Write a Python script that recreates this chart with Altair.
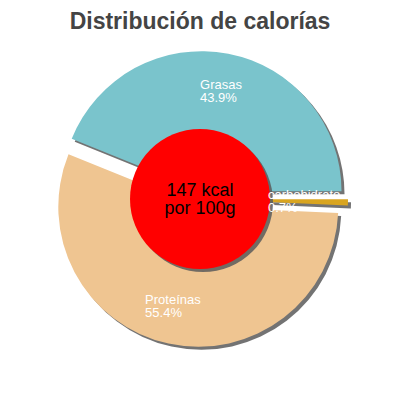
import math
import altair as alt
import pandas as pd

# ---- data ----
names = ["Grasas", "carbohidrato", "Proteínas"]
pcts = [43.9, 0.7, 55.4]
pct_labels = ["43.9%", "0.7%", "55.4%"]
slice_order = [0, 1, 2]
colors = ["#7ac4cc", "#d9a520", "#efc591"]
center_lines = ["147 kcal", "por 100g"]
title_text = ["Distribución de calorías"]

# ---- layout / style constants ----
CX, CY = 192, 151          # pie centre in view pixels
R = 140                    # pie radius
D = 8                      # slice explode offset
RL = 110                   # label radius
SH = 3                     # shadow offset
START = math.radians(-68.0)

df = pd.DataFrame({"name": names, "pct": pcts, "pct_label": pct_labels, "order": slice_order})
cdf = pd.DataFrame({"line": center_lines, "row": [0, 1]})
tdf = pd.DataFrame({"title": title_text})

base = (
    alt.Chart(df)
    .transform_joinaggregate(total="sum(pct)")
    .transform_window(cum="sum(pct)", sort=[alt.SortField("order")], frame=[None, 0])
    .transform_calculate(
        a0=f"{START} + (datum.cum - datum.pct) / datum.total * 2 * PI",
        a1=f"{START} + datum.cum / datum.total * 2 * PI",
    )
    .transform_calculate(mid="(datum.a0 + datum.a1) / 2")
    .transform_calculate(
        ox=f"{CX} + {D} * sin(datum.mid)",
        oy=f"{CY} - {D} * cos(datum.mid)",
        lx=f"{CX} + {RL} * sin(datum.mid) - 3.5 * max(length(datum.name), length(datum.pct_label))",
        ly=f"{CY} - {RL} * cos(datum.mid)",
    )
    .transform_calculate(sx=f"datum.ox + {SH}", sy=f"datum.oy + {SH}")
)

theta = alt.Theta("a0:Q", scale=None, stack=None)
theta2 = alt.Theta2("a1:Q")

shadow = base.mark_arc(radius=R, color="#5a5a5a", opacity=0.85).encode(
    theta=theta, theta2=theta2,
    x=alt.X("sx:Q", scale=None, axis=None),
    y=alt.Y("sy:Q", scale=None, axis=None),
)

slices = base.mark_arc(radius=R).encode(
    theta=theta, theta2=theta2,
    x=alt.X("ox:Q", scale=None, axis=None),
    y=alt.Y("oy:Q", scale=None, axis=None),
    color=alt.Color("name:N", scale=alt.Scale(domain=names, range=colors), legend=None),
)

label_font = dict(font="Liberation Sans", fontSize=13, color="white", align="left", baseline="alphabetic")
lab1 = base.mark_text(dy=-2.5, **label_font).encode(
    x=alt.X("lx:Q", scale=None, axis=None), y=alt.Y("ly:Q", scale=None, axis=None), text="name:N"
)
lab2 = base.mark_text(dy=10.5, **label_font).encode(
    x=alt.X("lx:Q", scale=None, axis=None), y=alt.Y("ly:Q", scale=None, axis=None), text="pct_label:N"
)

cbase = alt.Chart(cdf).transform_filter("datum.row == 0")
circle_shadow = cbase.mark_arc(radius=70, theta=0, theta2=2 * math.pi, color="#5a5a5a", opacity=0.85).encode(
    x=alt.value(CX + SH), y=alt.value(CY + SH)
)
circle = cbase.mark_arc(radius=70, theta=0, theta2=2 * math.pi, color="#ff0000").encode(
    x=alt.value(CX), y=alt.value(CY)
)

ctext = (
    alt.Chart(cdf)
    .transform_calculate(ty=f"{CY} - 3 + datum.row * 18", tx=f"{CX}")
    .mark_text(font="Liberation Sans", fontSize=18, color="black", align="center", baseline="alphabetic")
    .encode(x=alt.X("tx:Q", scale=None, axis=None), y=alt.Y("ty:Q", scale=None, axis=None), text="line:N")
)

title = (
    alt.Chart(tdf)
    .transform_calculate(tx=f"{CX}", ty="-19")
    .mark_text(font="Liberation Sans", fontSize=23, fontWeight="bold", color="#444444",
               align="center", baseline="alphabetic")
    .encode(x=alt.X("tx:Q", scale=None, axis=None), y=alt.Y("ty:Q", scale=None, axis=None), text="title:N")
)

chart = (
    alt.layer(shadow, slices, circle_shadow, circle, lab1, lab2, ctext, title)
    .properties(
        width=384,
        height=344,
        autosize=alt.AutoSizeParams(type="none"),
        padding={"top": 40, "left": 0, "right": 0, "bottom": 0},
    )
    .configure_view(stroke=None)
)

chart.save("out.html", embed_options={"renderer": "svg", "actions": False})
